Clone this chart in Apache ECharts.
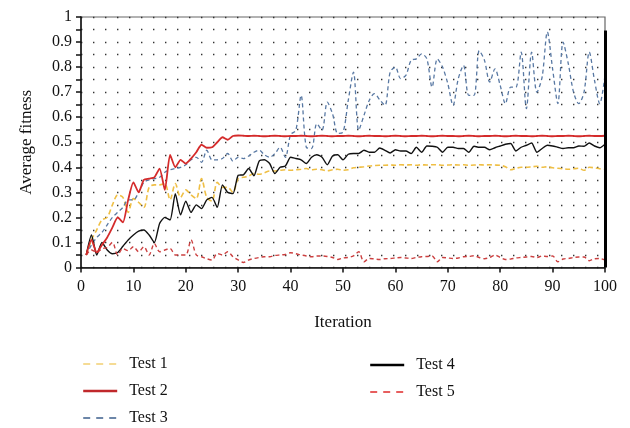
<!DOCTYPE html>
<html>
<head>
<meta charset="utf-8">
<script src="https://cdn.jsdelivr.net/npm/echarts@6/dist/echarts.min.js"></script>
<style>
  html, body { margin: 0; padding: 0; background: #fff; }
  #chart { width: 630px; height: 428px; }
</style>
</head>
<body>
<div id="chart"></div>
<script>
// Average fitness per iteration for five test runs (iterations 1..100)
const seriesNames = ['Test 1', 'Test 2', 'Test 3', 'Test 4', 'Test 5'];

const test1 = [
  0.05, 0.11, 0.15, 0.19, 0.20, 0.25, 0.29, 0.28, 0.22, 0.275,
  0.26, 0.24, 0.32, 0.33, 0.33, 0.335, 0.27, 0.335, 0.28, 0.31,
  0.29, 0.275, 0.355, 0.28, 0.265, 0.34, 0.32, 0.32, 0.30, 0.355,
  0.36, 0.365, 0.375, 0.372, 0.378, 0.385, 0.385, 0.388, 0.39, 0.388,
  0.39, 0.392, 0.395, 0.39, 0.392, 0.39, 0.386, 0.39, 0.392, 0.388,
  0.39, 0.398, 0.40, 0.402, 0.405, 0.407, 0.408, 0.408, 0.409, 0.408,
  0.41, 0.409, 0.41, 0.408, 0.41, 0.409, 0.41, 0.41, 0.408, 0.409,
  0.41, 0.409, 0.41, 0.408, 0.409, 0.41, 0.409, 0.41, 0.409, 0.408,
  0.402, 0.39, 0.396, 0.40, 0.40, 0.402, 0.404, 0.40, 0.402, 0.398,
  0.396, 0.394, 0.392, 0.394, 0.396, 0.388, 0.40, 0.398, 0.394, 0.392
];

const test2 = [
  0.05, 0.11, 0.06, 0.09, 0.12, 0.16, 0.20, 0.18, 0.27, 0.34,
  0.30, 0.35, 0.355, 0.36, 0.395, 0.31, 0.45, 0.40, 0.43, 0.415,
  0.435, 0.46, 0.49, 0.478, 0.48, 0.50, 0.52, 0.51, 0.525, 0.527,
  0.526, 0.525, 0.526, 0.525, 0.524, 0.525, 0.526, 0.525, 0.524, 0.525,
  0.525, 0.526, 0.525, 0.524, 0.525, 0.526, 0.525, 0.524, 0.525, 0.525,
  0.526, 0.525, 0.524, 0.525, 0.526, 0.525, 0.525, 0.524, 0.525, 0.526,
  0.525, 0.524, 0.525, 0.525, 0.526, 0.525, 0.524, 0.525, 0.526, 0.525,
  0.525, 0.524, 0.525, 0.526, 0.525, 0.524, 0.525, 0.525, 0.526, 0.525,
  0.524, 0.525, 0.526, 0.525, 0.525, 0.524, 0.525, 0.526, 0.525, 0.524,
  0.525, 0.525, 0.526, 0.525, 0.524, 0.525, 0.526, 0.525, 0.525, 0.526
];

const test3 = [
  0.05, 0.09, 0.12, 0.14, 0.17, 0.20, 0.22, 0.24, 0.27, 0.27,
  0.30, 0.34, 0.35, 0.355, 0.36, 0.38, 0.39, 0.395, 0.40, 0.41,
  0.43, 0.44, 0.42, 0.468, 0.43, 0.43, 0.435, 0.455, 0.425, 0.44,
  0.435, 0.445, 0.46, 0.468, 0.45, 0.44, 0.455, 0.48, 0.44, 0.53,
  0.548, 0.687, 0.48, 0.475, 0.574, 0.548, 0.66, 0.614, 0.535, 0.54,
  0.667, 0.78, 0.548, 0.607, 0.667, 0.694, 0.67, 0.647, 0.78, 0.80,
  0.754, 0.767, 0.827, 0.833, 0.853, 0.833, 0.72, 0.833, 0.80, 0.734,
  0.647, 0.754, 0.807, 0.687, 0.687, 0.866, 0.827, 0.74, 0.793, 0.727,
  0.654, 0.72, 0.72, 0.86, 0.634, 0.86, 0.70, 0.76, 0.94, 0.793,
  0.654, 0.90, 0.813, 0.70, 0.654, 0.70, 0.86, 0.747, 0.654, 0.767
];

const test4 = [
  0.05, 0.13, 0.05, 0.10, 0.07, 0.055, 0.06, 0.085, 0.11, 0.13,
  0.145, 0.15, 0.13, 0.10, 0.176, 0.20, 0.19, 0.295, 0.21, 0.265,
  0.22, 0.25, 0.235, 0.27, 0.28, 0.24, 0.33, 0.30, 0.295, 0.368,
  0.37, 0.395, 0.366, 0.425, 0.43, 0.415, 0.375, 0.40, 0.405, 0.44,
  0.435, 0.43, 0.415, 0.44, 0.45, 0.44, 0.41, 0.445, 0.45, 0.43,
  0.452, 0.455, 0.455, 0.468, 0.46, 0.46, 0.477, 0.468, 0.457, 0.47,
  0.465, 0.465, 0.455, 0.48, 0.46, 0.485, 0.484, 0.48, 0.46, 0.48,
  0.48, 0.475, 0.475, 0.46, 0.484, 0.48, 0.48, 0.47, 0.478, 0.485,
  0.492, 0.495, 0.465, 0.48, 0.488, 0.497, 0.46, 0.475, 0.488, 0.485,
  0.48, 0.475, 0.478, 0.478, 0.485, 0.484, 0.497, 0.485, 0.478, 0.492
];

const test5 = [
  0.05, 0.07, 0.06, 0.075, 0.08, 0.10, 0.05, 0.076, 0.067, 0.083,
  0.063, 0.083, 0.05, 0.096, 0.063, 0.07, 0.076, 0.05, 0.05, 0.05,
  0.11, 0.05, 0.043, 0.035, 0.03, 0.056, 0.05, 0.063, 0.043, 0.03,
  0.02, 0.03, 0.036, 0.04, 0.043, 0.043, 0.048, 0.05, 0.052, 0.059,
  0.055, 0.05, 0.046, 0.043, 0.046, 0.046, 0.044, 0.04, 0.032, 0.038,
  0.04, 0.046, 0.063, 0.023, 0.036, 0.034, 0.032, 0.035, 0.036, 0.038,
  0.04, 0.038, 0.036, 0.04, 0.043, 0.044, 0.046, 0.023, 0.04, 0.038,
  0.036, 0.038, 0.043, 0.044, 0.047, 0.04, 0.035, 0.04, 0.05, 0.04,
  0.032, 0.034, 0.038, 0.04, 0.042, 0.044, 0.04, 0.046, 0.044, 0.046,
  0.023, 0.034, 0.036, 0.04, 0.042, 0.042, 0.027, 0.035, 0.036, 0.03
];

const xTicks = [0, 10, 20, 30, 40, 50, 60, 70, 80, 90, 100];

const FONT = "'Liberation Serif', 'DejaVu Serif', serif";

function pairs(values) {
  return values.map((v, i) => [i + 1, v]);
}

const styles = [
  { color: '#efbf45', width: 1.6, type: [5, 3], smooth: 0.3, legend: { color: '#f2cf72', width: 1.6, type: [7, 6] } },
  { color: '#d42b2b', width: 1.8, type: 'solid', smooth: 0.2, legend: { color: '#c0282b', width: 2.4, type: 'solid' } },
  { color: '#5878a3', width: 1.3, type: [4, 3], smooth: 0.3, legend: { color: '#3d5f8c', width: 1.6, type: [7, 6] } },
  { color: '#111111', width: 1.4, type: 'solid', smooth: 0.2, legend: { color: '#000000', width: 2.4, type: 'solid' } },
  { color: '#cc4040', width: 1.4, type: [4, 3], smooth: 0.3, legend: { color: '#e02a2a', width: 1.4, type: [7, 6] } }
];

const allValues = [test1, test2, test3, test4, test5];

const series = seriesNames.map((name, k) => ({
  name: name,
  type: 'line',
  data: pairs(allValues[k]),
  symbol: 'none',
  smooth: styles[k].smooth,
  z: k === 1 ? 4 : 3,
  lineStyle: { color: styles[k].color, width: styles[k].width, type: styles[k].type },
  itemStyle: { color: styles[k].color }
}));

// heavy black edge on the right-hand side of the plot frame
series[3].markLine = {
  silent: true,
  symbol: 'none',
  label: { show: false },
  lineStyle: { color: '#000', width: 3, type: 'solid' },
  data: [[{ coord: [100, 0] }, { coord: [100, 0.946] }]]
};

function legendItems(names) {
  return names.map(n => {
    const s = styles[seriesNames.indexOf(n)].legend;
    return { name: n, lineStyle: { color: s.color, width: s.width, type: s.type } };
  });
}

const legendCommon = {
  orient: 'vertical',
  padding: 0,
  height: 90,
  itemWidth: 34, itemHeight: 14, itemGap: 11,
  itemStyle: { opacity: 0, borderWidth: 0 },
  textStyle: { fontFamily: FONT, fontSize: 16, color: '#111', padding: [0, 0, 0, 7] },
  selectedMode: false
};

const chart = echarts.init(document.getElementById('chart'), null, { renderer: 'canvas' });

chart.setOption({
  animation: false,
  backgroundColor: '#ffffff',
  textStyle: { fontFamily: FONT },
  grid: {
    left: 81, right: 25, top: 17, bottom: 160.5,
    show: true, borderColor: '#666', borderWidth: 1.2, backgroundColor: 'transparent'
  },
  xAxis: {
    type: 'value',
    min: 0, max: 100, interval: 10,
    name: 'Iteration',
    nameLocation: 'middle',
    nameGap: 47,
    nameTextStyle: { fontFamily: FONT, fontSize: 17, color: '#111' },
    axisLine: { show: true, lineStyle: { color: '#111', width: 1.5 } },
    axisTick: { show: true, inside: false, length: 5, lineStyle: { color: '#111', width: 1.5 } },
    axisLabel: {
      fontFamily: FONT, fontSize: 16, color: '#111', margin: 11,
      formatter: v => (xTicks.indexOf(v) >= 0 ? String(v) : '')
    },
    splitLine: { show: false }
  },
  yAxis: {
    type: 'value',
    min: 0, max: 1, interval: 0.1,
    name: 'Average fitness',
    nameLocation: 'middle',
    nameGap: 46,
    nameTextStyle: { fontFamily: FONT, fontSize: 17, color: '#111' },
    axisLine: { show: true, lineStyle: { color: '#111', width: 1.5 } },
    axisTick: { show: true, inside: false, length: 5, lineStyle: { color: '#111', width: 1.5 } },
    minorTick: { show: true, splitNumber: 2, length: 5, lineStyle: { color: '#111', width: 1.5 } },
    axisLabel: {
      fontFamily: FONT, fontSize: 16, color: '#111', margin: 9,
      formatter: v => String(Math.round(v * 10) / 10)
    },
    splitLine: { show: true, lineStyle: { color: '#333', width: 1.4, type: [1.4, 10.6] } },
    minorSplitLine: { show: true, lineStyle: { color: '#333', width: 1.4, type: [1.4, 10.6] } }
  },
  legend: [
    Object.assign({}, legendCommon, { data: legendItems(['Test 1', 'Test 2', 'Test 3']), left: 82, top: 356 }),
    Object.assign({}, legendCommon, { data: legendItems(['Test 4', 'Test 5']), left: 369, top: 357 })
  ],
  series: series
});
</script>
</body>
</html>
